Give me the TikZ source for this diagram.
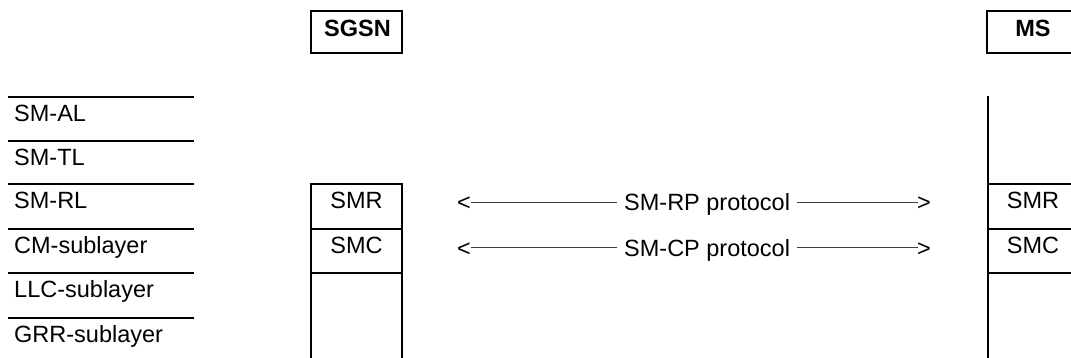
\documentclass[tikz,border=0pt]{standalone}
\usepackage{fontspec}
\setmainfont{Liberation Sans}
\begin{document}
\begin{tikzpicture}[x=1pt,y=-1pt,
  lbl/.style={inner sep=0pt, font=\fontsize{23.5}{28}\selectfont},
  hdr/.style={inner sep=0pt, font=\fontsize{23.5}{28}\selectfont\bfseries},
  rule/.style={line width=2pt, line cap=rect},
  boxed/.style={draw, line width=2pt, minimum width=91pt, minimum height=42pt, inner sep=0pt},
  proto/.style={line width=1.3pt, draw=black!75}]
\useasboundingbox (0,0) rectangle (1071,358);
\clip (0,0) rectangle (1071,358);
% headers
\node[boxed] (sgsnbox) at (356.5,32) {};
\node[hdr, anchor=base] (sgsn) at (357.5,36.5) {SGSN};
\node[boxed] (msbox) at (1032.5,32) {};
\node[hdr, anchor=base] (ms) at (1033,36.5) {MS};
% left layer list
\foreach \y in {97,141,184,229,273,318} \draw[rule] (9,\y) -- (193,\y);
\node[lbl, anchor=base west] (al) at (14,121.5) {SM-AL};
\node[lbl, anchor=base west] (tl) at (14,165.5) {SM-TL};
\node[lbl, anchor=base west] (rl) at (14,208.5) {SM-RL};
\node[lbl, anchor=base west] (cm) at (14,253.5) {CM-sublayer};
\node[lbl, anchor=base west] (llc) at (14,297.5) {LLC-sublayer};
\node[lbl, anchor=base west] (grr) at (14,342.5) {GRR-sublayer};
% SGSN column
\draw[rule] (311,365) -- (311,184) -- (402,184) -- (402,365);
\draw[rule] (311,229) -- (402,229);
\draw[rule] (311,273) -- (402,273);
\node[lbl, anchor=base] (smr1) at (356.5,208.5) {SMR};
\node[lbl, anchor=base] (smc1) at (356.5,253.5) {SMC};
% MS column
\draw[rule] (988,365) -- (988,97);
\foreach \y in {184,229,273} \draw[rule] (988,\y) -- (1080,\y);
\node[lbl, anchor=base] (smr2) at (1033,208.5) {SMR};
\node[lbl, anchor=base] (smc2) at (1033,253.5) {SMC};
% protocols
\node[lbl, anchor=base west] (rplt) at (457,211) {<};
\node[lbl, anchor=base west] (rp) at (624,211) {SM-RP protocol};
\node[lbl, anchor=base west] (rpgt) at (917,211) {>};
\draw[proto] ([yshift=8.3pt]rplt.base east) -- ([yshift=8.3pt,xshift=-7pt]rp.base west);
\draw[proto] ([yshift=8.3pt,xshift=7pt]rp.base east) -- ([yshift=8.3pt,xshift=1pt]rpgt.base west);
\node[lbl, anchor=base west] (cplt) at (457,256) {<};
\node[lbl, anchor=base west] (cp) at (624,256) {SM-CP protocol};
\node[lbl, anchor=base west] (cpgt) at (917,256) {>};
\draw[proto] ([yshift=8.3pt]cplt.base east) -- ([yshift=8.3pt,xshift=-7pt]cp.base west);
\draw[proto] ([yshift=8.3pt,xshift=7pt]cp.base east) -- ([yshift=8.3pt,xshift=1pt]cpgt.base west);
\end{tikzpicture}
\end{document}
